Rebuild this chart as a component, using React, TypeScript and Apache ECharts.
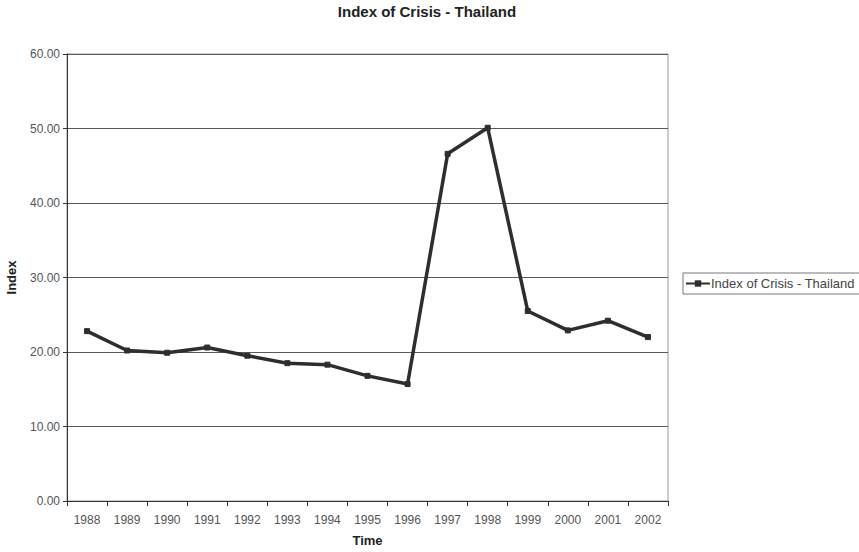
import React, { useEffect, useRef } from "react";
import * as echarts from "echarts";

const years = ["1988", "1989", "1990", "1991", "1992", "1993", "1994", "1995", "1996", "1997", "1998", "1999", "2000", "2001", "2002"];
const crisisIndex = [22.8, 20.2, 19.9, 20.6, 19.5, 18.5, 18.3, 16.8, 15.7, 46.6, 50.1, 25.5, 22.9, 24.2, 22.0];
const seriesName = "Index of Crisis - Thailand";
const chartTitle = "Index of Crisis - Thailand";

export default function App() {
  const ref = useRef<HTMLDivElement>(null);

  useEffect(() => {
    if (!ref.current) return;
    const chart = echarts.init(ref.current, null, { renderer: "svg" });
    const font = "Arial, 'Liberation Sans', sans-serif";
    chart.setOption({
      animation: false,
      backgroundColor: "#ffffff",
      textStyle: { fontFamily: font },
      title: {
        text: chartTitle,
        left: 427,
        top: 4,
        padding: 0,
        textAlign: "center",
        textStyle: { fontSize: 15, fontWeight: "bold", color: "#222", fontFamily: font },
      },
      legend: {
        data: [seriesName],
        orient: "vertical",
        left: 683,
        top: 273,
        borderColor: "#777",
        borderWidth: 1,
        padding: [4, 6, 4, 2],
        itemWidth: 24,
        itemHeight: 8,
        itemGap: 0,
        textStyle: { fontSize: 13, color: "#444", fontFamily: font, padding: [0, 0, 0, -4] },
      },
      grid: {
        left: 67,
        right: 191,
        top: 54,
        bottom: 51,
        outerBoundsMode: "none",
        containLabel: false,
        show: true,
        borderColor: "#9a9a9a",
        borderWidth: 1,
        backgroundColor: "transparent",
      },
      xAxis: {
        type: "category",
        data: years,
        boundaryGap: true,
        name: "Time",
        nameLocation: "middle",
        nameGap: 33,
        nameTextStyle: { fontSize: 13, fontWeight: "bold", color: "#222", fontFamily: font },
        axisLine: { show: true, lineStyle: { color: "#333", width: 1 } },
        axisTick: { show: true, interval: 0, alignWithLabel: false, length: 5, lineStyle: { color: "#333" } },
        axisLabel: { color: "#555", fontSize: 12, margin: 13, interval: 0, fontFamily: font },
        splitLine: { show: false },
      },
      yAxis: {
        type: "value",
        min: 0,
        max: 60,
        interval: 10,
        name: "Index",
        nameLocation: "middle",
        nameRotate: 90,
        nameGap: 49,
        nameTextStyle: { fontSize: 13, fontWeight: "bold", color: "#222", fontFamily: font },
        axisLine: { show: true, lineStyle: { color: "#333", width: 1 } },
        axisTick: { show: true, length: 4, lineStyle: { color: "#333" } },
        axisLabel: {
          color: "#555",
          fontSize: 12,
          margin: 7,
          fontFamily: font,
          formatter: (v: number) => v.toFixed(2),
        },
        splitLine: { show: true, lineStyle: { color: "#5a5a5a", width: 1 } },
      },
      series: [
        {
          name: seriesName,
          type: "line",
          data: crisisIndex,
          symbol: "rect",
          symbolSize: 5,
          showSymbol: true,
          lineStyle: { color: "#2e2e2e", width: 3.5 },
          itemStyle: { color: "#2e2e2e", borderColor: "#2e2e2e" },
        },
      ],
    });
    return () => chart.dispose();
  }, []);

  return <div ref={ref} style={{ width: 859, height: 552, position: "absolute", left: 0, top: 0 }} />;
}
